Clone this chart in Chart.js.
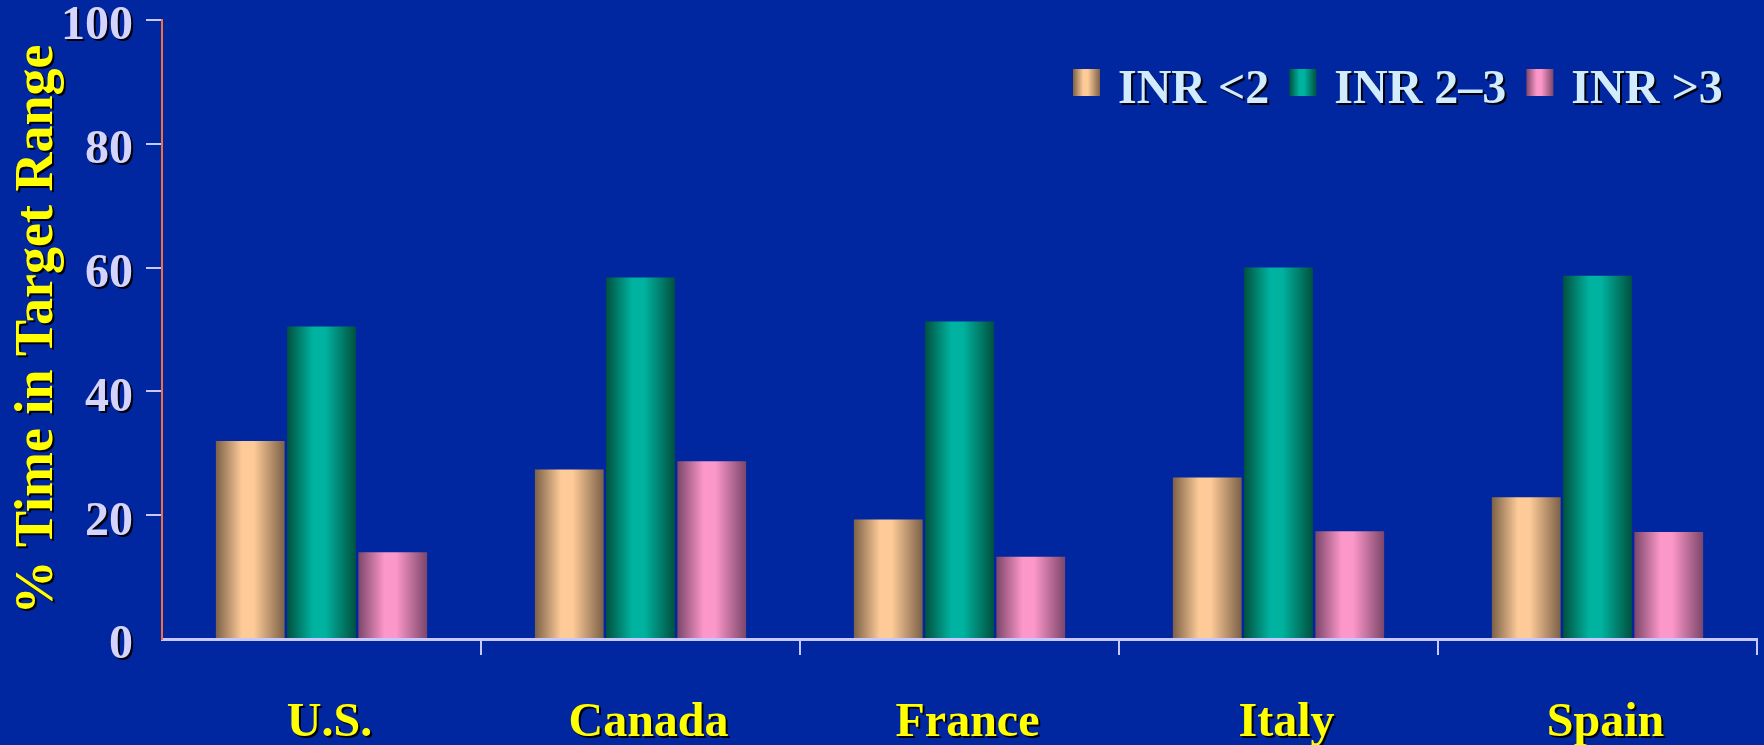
<!DOCTYPE html>
<html>
<head>
<meta charset="utf-8">
<script src="https://cdn.jsdelivr.net/npm/chart.js@4/dist/chart.umd.min.js"></script>
<style>
  html, body { margin: 0; padding: 0; background: #0027a0; }
  canvas { display: block; }
</style>
</head>
<body>
<canvas id="chart" width="1764" height="745"></canvas>
<script>
// datos del grafico
const paises = ['U.S.', 'Canada', 'France', 'Italy', 'Spain'];
const series = ['INR <2', 'INR 2\u20133', 'INR >3'];
const inrBajo = [32, 27.4, 19.3, 26.1, 22.9];
const inrRango = [50.5, 58.4, 51.3, 60, 58.7];
const inrAlto = [14, 28.7, 13.3, 17.4, 17.3];
const ticksY = [0, 20, 40, 60, 80, 100];

const FUENTE = "'Liberation Serif', 'Times New Roman', serif";
// colores claro / oscuro de cada serie (efecto cilindro)
const colores = [
  { claro: '#fecb98', oscuro: '#7c6148' },
  { claro: '#00b3a0', oscuro: '#00523f' },
  { claro: '#fc97c9', oscuro: '#7c466a' }
];

function degradado(ctx, x, w, c) {
  const g = ctx.createLinearGradient(x, 0, x + w, 0);
  g.addColorStop(0, c.oscuro);
  g.addColorStop(0.38, c.claro);
  g.addColorStop(0.55, c.claro);
  g.addColorStop(1, c.oscuro);
  return g;
}

const canvas = document.getElementById('chart');
const ctx = canvas.getContext('2d');

// sombra negra solo para los textos
const fillOriginal = ctx.fillText;
ctx.fillText = function () {
  ctx.save();
  ctx.shadowColor = 'rgba(0,0,0,0.95)';
  ctx.shadowOffsetX = 2;
  ctx.shadowOffsetY = 2;
  ctx.shadowBlur = 0;
  fillOriginal.apply(ctx, arguments);
  ctx.restore();
};

/* ================================
   Plugins: fondo, sombreado, leyenda
================================= */
const fondo = {
  id: 'fondo',
  beforeDraw(chart) {
    const c = chart.ctx;
    c.save();
    c.fillStyle = '#0027a0';
    c.fillRect(0, 0, chart.width, chart.height);
    c.restore();
  }
};

const sombreado = {
  id: 'sombreado',
  beforeDatasetsDraw(chart) {
    chart.data.datasets.forEach((ds, d) => {
      chart.getDatasetMeta(d).data.forEach(bar => {
        const g = degradado(chart.ctx, bar.x - bar.width / 2, bar.width, colores[d]);
        bar.options = Object.assign({}, bar.options, { backgroundColor: g });
      });
    });
  }
};

const leyenda = {
  id: 'leyenda',
  afterDraw(chart) {
    const c = chart.ctx;
    const caja = 27;
    let x = 1073;
    c.save();
    c.font = 'bold 48px ' + FUENTE;
    c.textBaseline = 'alphabetic';
    c.textAlign = 'left';
    chart.data.datasets.forEach((ds, d) => {
      c.fillStyle = degradado(c, x, caja, colores[d]);
      c.fillRect(x, 69, caja, caja);
      c.fillStyle = '#d2ecff';
      c.fillText(ds.label, x + caja + 18, 103);
      x += caja + 18 + c.measureText(ds.label).width + 20;
    });
    c.restore();
  }
};

const lavanda = '#c8c8ff';

new Chart(canvas, {
  type: 'bar',
  data: {
    labels: paises,
    datasets: [
      { label: series[0], data: inrBajo, backgroundColor: colores[0].claro },
      { label: series[1], data: inrRango, backgroundColor: colores[1].claro },
      { label: series[2], data: inrAlto, backgroundColor: colores[2].claro }
    ]
  },
  options: {
    responsive: false,
    animation: false,
    layout: { padding: { top: 20, right: 7, left: 0, bottom: 0 } },
    datasets: { bar: { categoryPercentage: 0.67, barPercentage: 0.965, borderWidth: 0 } },
    plugins: {
      legend: { display: false },
      tooltip: { enabled: false }
    },
    scales: {
      x: {
        grid: {
          drawOnChartArea: false,
          tickLength: 16,
          lineWidth: 2,
          color: c => (c.index === 0 ? 'rgba(0,0,0,0)' : lavanda)
        },
        border: { color: lavanda, width: 3 },
        ticks: {
          color: '#ffff00',
          padding: 40,
          labelOffset: 8,
          font: { family: FUENTE, size: 48, weight: 'bold' }
        },
        afterFit(s) {
          s.height = 106;
          s.paddingLeft = 0;
          s.paddingRight = 0;
        }
      },
      y: {
        min: 0,
        max: 100,
        afterBuildTicks(s) {
          s.ticks = ticksY.map(v => ({ value: v }));
        },
        grid: {
          drawOnChartArea: false,
          tickLength: 16,
          lineWidth: 2,
          color: c => (c.tick && c.tick.value === 0 ? 'rgba(0,0,0,0)' : lavanda)
        },
        border: { color: '#f2703f', width: 2 },
        ticks: {
          color: '#d4d4ff',
          padding: 13,
          labelOffset: 7,
          font: { family: FUENTE, size: 48, weight: 'bold' }
        },
        title: {
          display: true,
          text: '% Time in Target Range',
          color: '#ffff00',
          padding: { top: 6, bottom: 0 },
          font: { family: FUENTE, size: 54, weight: 'bold' }
        },
        afterFit(s) {
          s.width = 162;
          s.paddingTop = 0;
          s.paddingBottom = 0;
        }
      }
    }
  },
  plugins: [fondo, sombreado, leyenda]
});
</script>
</body>
</html>
